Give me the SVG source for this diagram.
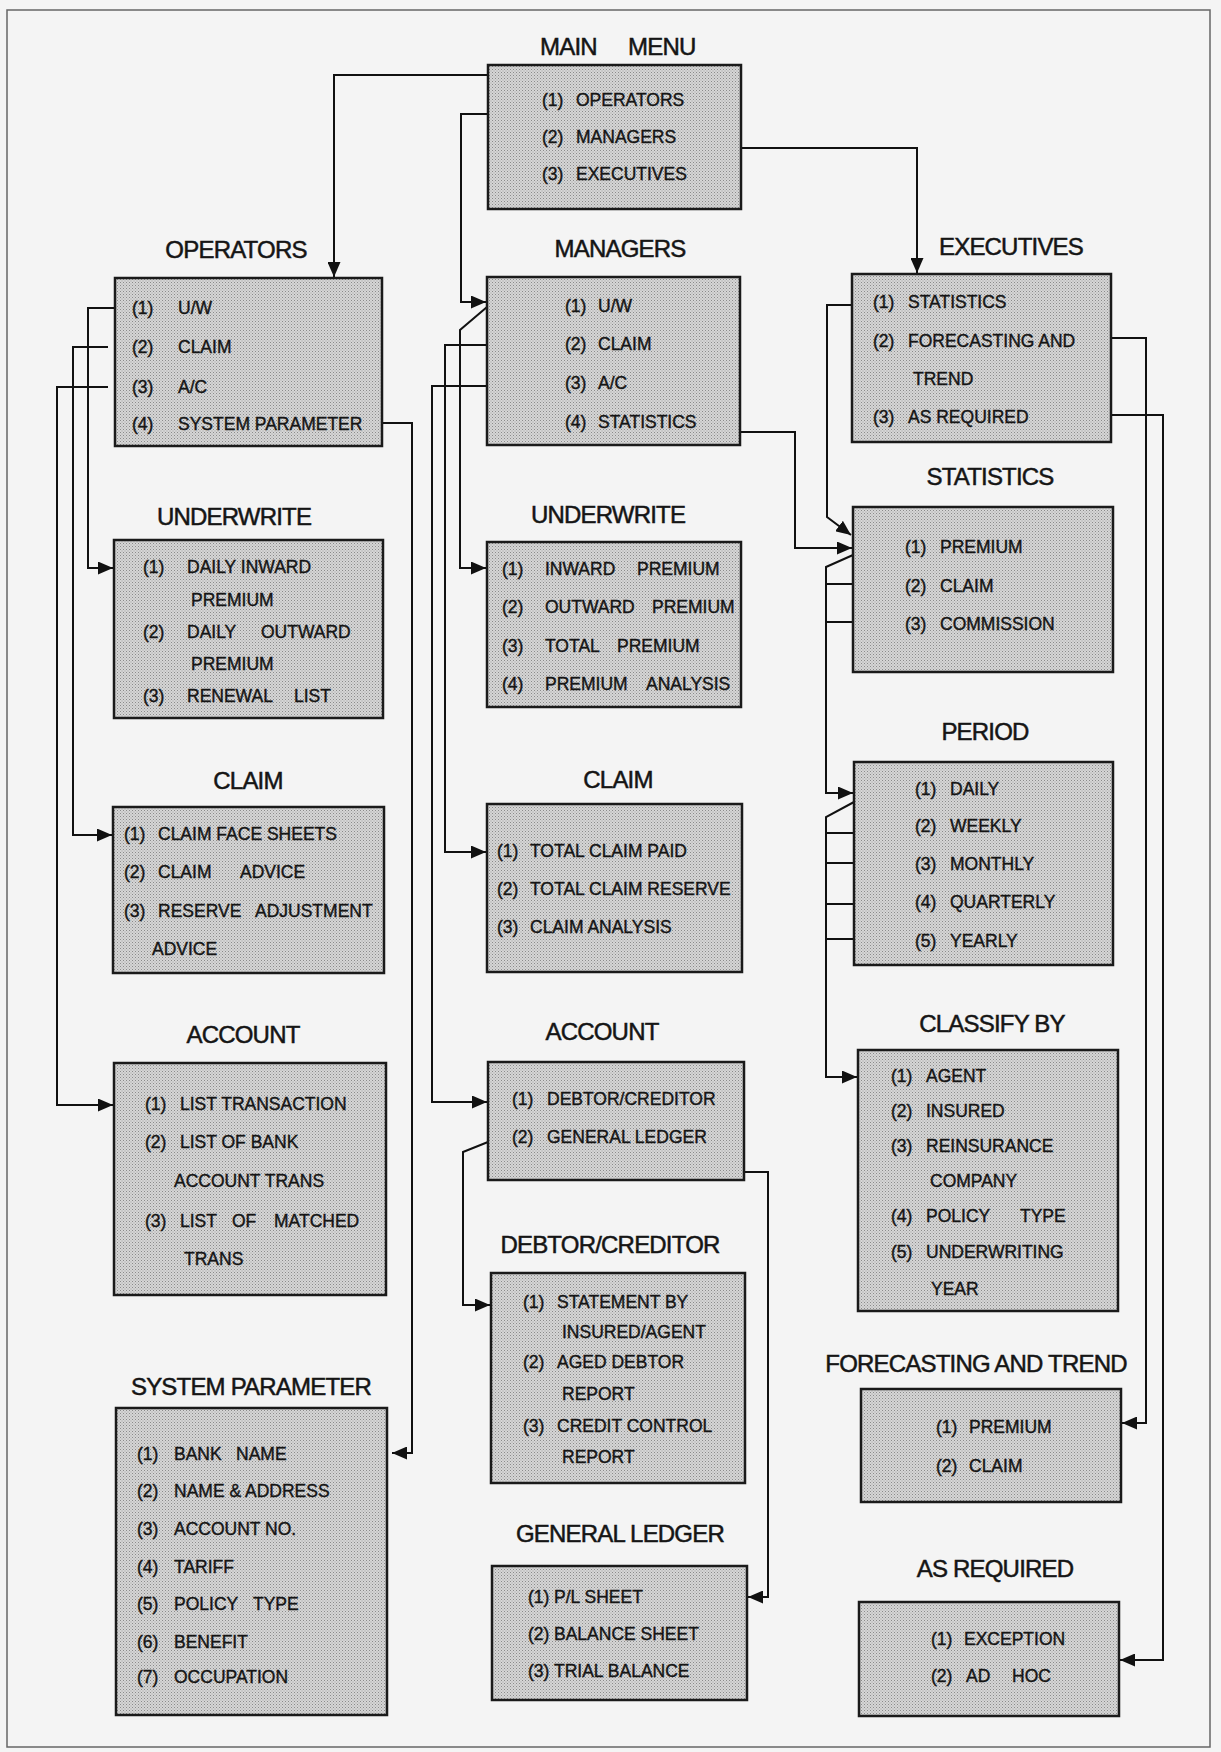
<svg xmlns="http://www.w3.org/2000/svg" width="1221" height="1752" viewBox="0 0 1221 1752">
<defs>
<pattern id="dots" width="3" height="3" patternUnits="userSpaceOnUse">
<rect width="3" height="3" fill="#d6d6d6"/>
<rect width="1" height="1" fill="#8a8a8a"/>
<rect x="1.5" y="1.5" width="1" height="1" fill="#a0a0a0"/>
</pattern>
<marker id="ah" markerUnits="userSpaceOnUse" markerWidth="16" markerHeight="13" refX="15" refY="6.5" orient="auto" viewBox="0 0 16 13">
<path d="M0,0 L15,6.5 L0,13 Z" fill="#111"/>
</marker>
</defs>
<style>
.box{fill:url(#dots);stroke:#1a1a1a;stroke-width:2.5}
.t{font-family:'Liberation Sans',Arial,sans-serif;font-size:24px;letter-spacing:-0.8px;text-anchor:middle;fill:#151515;stroke:#151515;stroke-width:0.5}
.tl{font-family:'Liberation Sans',Arial,sans-serif;font-size:24px;letter-spacing:-0.8px;fill:#151515;stroke:#151515;stroke-width:0.5}
.i{font-family:'Liberation Sans',Arial,sans-serif;font-size:17.5px;fill:#151515;stroke:#151515;stroke-width:0.4}
.c{fill:none;stroke:#111;stroke-width:2}
</style>
<rect x="0" y="0" width="1221" height="1752" fill="#f4f4f4"/>
<rect x="7" y="10" width="1203" height="1737" fill="none" stroke="#666" stroke-width="1.5"/>

<g id="connectors" class="c">
<path d="M488 75 H334 V277" marker-end="url(#ah)"/>
<path d="M488 114 H461 V302 H486" marker-end="url(#ah)"/>
<path d="M741 148 H917 V273" marker-end="url(#ah)"/>
<path d="M115 308 H88 V568 H113" marker-end="url(#ah)"/>
<path d="M108 347 H73 V835 H112" marker-end="url(#ah)"/>
<path d="M108 387 H57 V1105 H113" marker-end="url(#ah)"/>
<path d="M382 423 H412 V1453 H392" marker-end="url(#ah)"/>
<path d="M487 307 L460 330 V568 H486" marker-end="url(#ah)"/>
<path d="M487 345 H445 V852 H486" marker-end="url(#ah)"/>
<path d="M487 386 H432 V1102 H487" marker-end="url(#ah)"/>
<path d="M740 432 H795 V548 H852" marker-end="url(#ah)"/>
<path d="M852 305 H827 V517 L851 535" marker-end="url(#ah)"/>
<path d="M1111 338 H1146 V1423 H1122" marker-end="url(#ah)"/>
<path d="M1111 415 H1163 V1660 H1120" marker-end="url(#ah)"/>
<path d="M853 555 L826 567 V793 H853" marker-end="url(#ah)"/>
<path d="M826 584 H853 M826 622 H853"/>
<path d="M854 802 L826 817 V1077 H857" marker-end="url(#ah)"/>
<path d="M826 833 H854 M826 863 H854 M826 904 H854 M826 939 H854"/>
<path d="M488 1142 L463 1152 V1305 H490" marker-end="url(#ah)"/>
<path d="M744 1172 H768 V1597 H748" marker-end="url(#ah)"/>
</g>

<g id="main-menu">
<text class="tl" y="55"><tspan x="540">MAIN </tspan><tspan x="628">MENU</tspan></text>
<rect class="box" x="488" y="65" width="253" height="144"/>
<text class="i" y="106"><tspan x="542">(1) </tspan><tspan x="576">OPERATORS</tspan></text>
<text class="i" y="143"><tspan x="542">(2) </tspan><tspan x="576">MANAGERS</tspan></text>
<text class="i" y="180"><tspan x="542">(3) </tspan><tspan x="576">EXECUTIVES</tspan></text>
</g>

<g id="operators">
<text class="t" x="236" y="258">OPERATORS</text>
<rect class="box" x="115" y="278" width="267" height="168"/>
<text class="i" y="314"><tspan x="132">(1) </tspan><tspan x="178">U/W</tspan></text>
<text class="i" y="353"><tspan x="132">(2) </tspan><tspan x="178">CLAIM</tspan></text>
<text class="i" y="393"><tspan x="132">(3) </tspan><tspan x="178">A/C</tspan></text>
<text class="i" y="430"><tspan x="132">(4) </tspan><tspan x="178">SYSTEM PARAMETER</tspan></text>
</g>

<g id="managers">
<text class="t" x="620" y="257">MANAGERS</text>
<rect class="box" x="487" y="277" width="253" height="168"/>
<text class="i" y="312"><tspan x="565">(1) </tspan><tspan x="598">U/W</tspan></text>
<text class="i" y="350"><tspan x="565">(2) </tspan><tspan x="598">CLAIM</tspan></text>
<text class="i" y="389"><tspan x="565">(3) </tspan><tspan x="598">A/C</tspan></text>
<text class="i" y="428"><tspan x="565">(4) </tspan><tspan x="598">STATISTICS</tspan></text>
</g>

<g id="executives">
<text class="t" x="1011" y="255">EXECUTIVES</text>
<rect class="box" x="852" y="274" width="259" height="168"/>
<text class="i" y="308"><tspan x="873">(1) </tspan><tspan x="908">STATISTICS</tspan></text>
<text class="i" y="347"><tspan x="873">(2) </tspan><tspan x="908">FORECASTING AND</tspan></text>
<text class="i" x="913" y="385">TREND</text>
<text class="i" y="423"><tspan x="873">(3) </tspan><tspan x="908">AS REQUIRED</tspan></text>
</g>

<g id="op-underwrite">
<text class="t" x="234" y="525">UNDERWRITE</text>
<rect class="box" x="114" y="540" width="269" height="178"/>
<text class="i" y="573"><tspan x="143">(1) </tspan><tspan x="187">DAILY INWARD</tspan></text>
<text class="i" x="191" y="606">PREMIUM</text>
<text class="i" y="638"><tspan x="143">(2) </tspan><tspan x="187">DAILY </tspan><tspan x="261">OUTWARD</tspan></text>
<text class="i" x="191" y="670">PREMIUM</text>
<text class="i" y="702"><tspan x="143">(3) </tspan><tspan x="187">RENEWAL </tspan><tspan x="294">LIST</tspan></text>
</g>

<g id="mg-underwrite">
<text class="t" x="608" y="523">UNDERWRITE</text>
<rect class="box" x="487" y="542" width="254" height="165"/>
<text class="i" y="575"><tspan x="502">(1) </tspan><tspan x="545">INWARD </tspan><tspan x="637">PREMIUM</tspan></text>
<text class="i" y="613"><tspan x="502">(2) </tspan><tspan x="545">OUTWARD </tspan><tspan x="652">PREMIUM</tspan></text>
<text class="i" y="652"><tspan x="502">(3) </tspan><tspan x="545">TOTAL </tspan><tspan x="617">PREMIUM</tspan></text>
<text class="i" y="690"><tspan x="502">(4) </tspan><tspan x="545">PREMIUM </tspan><tspan x="646">ANALYSIS</tspan></text>
</g>

<g id="statistics">
<text class="t" x="990" y="485">STATISTICS</text>
<rect class="box" x="853" y="507" width="260" height="165"/>
<text class="i" y="553"><tspan x="905">(1) </tspan><tspan x="940">PREMIUM</tspan></text>
<text class="i" y="592"><tspan x="905">(2) </tspan><tspan x="940">CLAIM</tspan></text>
<text class="i" y="630"><tspan x="905">(3) </tspan><tspan x="940">COMMISSION</tspan></text>
</g>

<g id="op-claim">
<text class="t" x="248" y="789">CLAIM</text>
<rect class="box" x="113" y="807" width="271" height="166"/>
<text class="i" y="840"><tspan x="124">(1) </tspan><tspan x="158">CLAIM FACE SHEETS</tspan></text>
<text class="i" y="878"><tspan x="124">(2) </tspan><tspan x="158">CLAIM </tspan><tspan x="240">ADVICE</tspan></text>
<text class="i" y="917"><tspan x="124">(3) </tspan><tspan x="158">RESERVE </tspan><tspan x="255">ADJUSTMENT</tspan></text>
<text class="i" x="152" y="955">ADVICE</text>
</g>

<g id="mg-claim">
<text class="t" x="618" y="788">CLAIM</text>
<rect class="box" x="487" y="804" width="255" height="168"/>
<text class="i" y="857"><tspan x="497">(1) </tspan><tspan x="530">TOTAL CLAIM PAID</tspan></text>
<text class="i" y="895"><tspan x="497">(2) </tspan><tspan x="530">TOTAL CLAIM RESERVE</tspan></text>
<text class="i" y="933"><tspan x="497">(3) </tspan><tspan x="530">CLAIM ANALYSIS</tspan></text>
</g>

<g id="period">
<text class="t" x="985" y="740">PERIOD</text>
<rect class="box" x="854" y="762" width="259" height="203"/>
<text class="i" y="795"><tspan x="915">(1) </tspan><tspan x="950">DAILY</tspan></text>
<text class="i" y="832"><tspan x="915">(2) </tspan><tspan x="950">WEEKLY</tspan></text>
<text class="i" y="870"><tspan x="915">(3) </tspan><tspan x="950">MONTHLY</tspan></text>
<text class="i" y="908"><tspan x="915">(4) </tspan><tspan x="950">QUARTERLY</tspan></text>
<text class="i" y="947"><tspan x="915">(5) </tspan><tspan x="950">YEARLY</tspan></text>
</g>

<g id="op-account">
<text class="t" x="243" y="1043">ACCOUNT</text>
<rect class="box" x="114" y="1063" width="272" height="232"/>
<text class="i" y="1110"><tspan x="145">(1) </tspan><tspan x="180">LIST TRANSACTION</tspan></text>
<text class="i" y="1148"><tspan x="145">(2) </tspan><tspan x="180">LIST OF BANK</tspan></text>
<text class="i" x="174" y="1187">ACCOUNT TRANS</text>
<text class="i" y="1227"><tspan x="145">(3) </tspan><tspan x="180">LIST </tspan><tspan x="232">OF </tspan><tspan x="274">MATCHED</tspan></text>
<text class="i" x="184" y="1265">TRANS</text>
</g>

<g id="mg-account">
<text class="t" x="602" y="1040">ACCOUNT</text>
<rect class="box" x="488" y="1062" width="256" height="118"/>
<text class="i" y="1105"><tspan x="512">(1) </tspan><tspan x="547">DEBTOR/CREDITOR</tspan></text>
<text class="i" y="1143"><tspan x="512">(2) </tspan><tspan x="547">GENERAL LEDGER</tspan></text>
</g>

<g id="classify-by">
<text class="t" x="992" y="1032">CLASSIFY BY</text>
<rect class="box" x="858" y="1050" width="260" height="261"/>
<text class="i" y="1082"><tspan x="891">(1) </tspan><tspan x="926">AGENT</tspan></text>
<text class="i" y="1117"><tspan x="891">(2) </tspan><tspan x="926">INSURED</tspan></text>
<text class="i" y="1152"><tspan x="891">(3) </tspan><tspan x="926">REINSURANCE</tspan></text>
<text class="i" x="930" y="1187">COMPANY</text>
<text class="i" y="1222"><tspan x="891">(4) </tspan><tspan x="926">POLICY </tspan><tspan x="1020">TYPE</tspan></text>
<text class="i" y="1258"><tspan x="891">(5) </tspan><tspan x="926">UNDERWRITING</tspan></text>
<text class="i" x="931" y="1295">YEAR</text>
</g>

<g id="debtor-creditor">
<text class="t" x="610" y="1253">DEBTOR/CREDITOR</text>
<rect class="box" x="491" y="1273" width="254" height="210"/>
<text class="i" y="1308"><tspan x="523">(1) </tspan><tspan x="557">STATEMENT BY</tspan></text>
<text class="i" x="562" y="1338">INSURED/AGENT</text>
<text class="i" y="1368"><tspan x="523">(2) </tspan><tspan x="557">AGED DEBTOR</tspan></text>
<text class="i" x="562" y="1400">REPORT</text>
<text class="i" y="1432"><tspan x="523">(3) </tspan><tspan x="557">CREDIT CONTROL</tspan></text>
<text class="i" x="562" y="1463">REPORT</text>
</g>

<g id="system-parameter">
<text class="t" x="251" y="1395">SYSTEM PARAMETER</text>
<rect class="box" x="116" y="1408" width="271" height="307"/>
<text class="i" y="1460"><tspan x="137">(1) </tspan><tspan x="174">BANK </tspan><tspan x="236">NAME</tspan></text>
<text class="i" y="1497"><tspan x="137">(2) </tspan><tspan x="174">NAME &amp; ADDRESS</tspan></text>
<text class="i" y="1535"><tspan x="137">(3) </tspan><tspan x="174">ACCOUNT NO.</tspan></text>
<text class="i" y="1573"><tspan x="137">(4) </tspan><tspan x="174">TARIFF</tspan></text>
<text class="i" y="1610"><tspan x="137">(5) </tspan><tspan x="174">POLICY </tspan><tspan x="253">TYPE</tspan></text>
<text class="i" y="1648"><tspan x="137">(6) </tspan><tspan x="174">BENEFIT</tspan></text>
<text class="i" y="1683"><tspan x="137">(7) </tspan><tspan x="174">OCCUPATION</tspan></text>
</g>

<g id="forecasting-trend">
<text class="t" x="976" y="1372">FORECASTING AND TREND</text>
<rect class="box" x="861" y="1389" width="260" height="113"/>
<text class="i" y="1433"><tspan x="936">(1) </tspan><tspan x="969">PREMIUM</tspan></text>
<text class="i" y="1472"><tspan x="936">(2) </tspan><tspan x="969">CLAIM</tspan></text>
</g>

<g id="general-ledger">
<text class="t" x="620" y="1542">GENERAL LEDGER</text>
<rect class="box" x="492" y="1566" width="255" height="134"/>
<text class="i" y="1603"><tspan x="528">(1) </tspan><tspan x="554">P/L SHEET</tspan></text>
<text class="i" y="1640"><tspan x="528">(2) </tspan><tspan x="554">BALANCE SHEET</tspan></text>
<text class="i" y="1677"><tspan x="528">(3) </tspan><tspan x="554">TRIAL BALANCE</tspan></text>
</g>

<g id="as-required">
<text class="t" x="995" y="1577">AS REQUIRED</text>
<rect class="box" x="859" y="1602" width="260" height="114"/>
<text class="i" y="1645"><tspan x="931">(1) </tspan><tspan x="964">EXCEPTION</tspan></text>
<text class="i" y="1682"><tspan x="931">(2) </tspan><tspan x="966">AD </tspan><tspan x="1012">HOC</tspan></text>
</g>
</svg>
